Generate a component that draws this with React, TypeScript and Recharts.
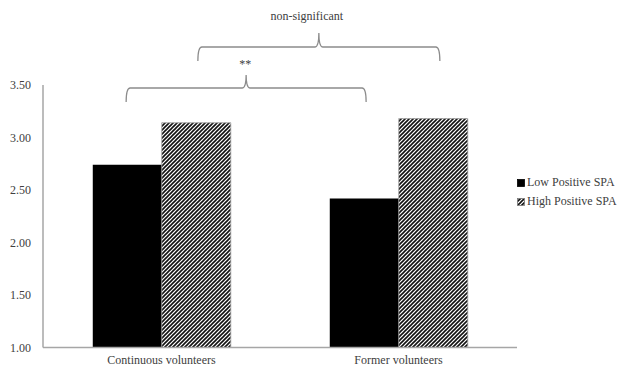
import { BarChart, Bar, XAxis, YAxis, Legend } from 'recharts'

const categories = ['Continuous volunteers', 'Former volunteers']
const lowPositive = [2.74, 2.42]
const highPositive = [3.14, 3.18]
const yTicks = [1.0, 1.5, 2.0, 2.5, 3.0, 3.5]
const seriesNames = ['Low Positive SPA', 'High Positive SPA']
const bracketLabels = ['**', 'non-significant']

const W = 622
const H = 372
const PLOT_LEFT = 43
const PLOT_RIGHT = 517
const PLOT_TOP = 85
const PLOT_BOTTOM = 347.5
const CAT_GAP = 0.21

const FONT = 'Liberation Serif, DejaVu Serif, serif'
const TEXT = '#404040'
const AXIS = '#a6a6a6'
const BRACE = '#8c8c8c'

const data = categories.map((name, i) => ({
  name,
  low: lowPositive[i],
  high: highPositive[i],
}))

// bar centres from the band layout (category band, gap, two bars)
function barCenter(cat: number, series: number): number {
  const band = (PLOT_RIGHT - PLOT_LEFT) / categories.length
  const gap = band * CAT_GAP
  const bw = (band - 2 * gap) / 2
  return PLOT_LEFT + band * cat + gap + bw * series + bw / 2
}

function bracePath(x1: number, x2: number, yH: number, yTip: number, yCusp: number): string {
  const xm = (x1 + x2) / 2
  const r = 4
  return [
    `M${x1},${yTip}`,
    `Q${x1},${yH} ${x1 + r},${yH}`,
    `L${xm - r},${yH}`,
    `Q${xm},${yH} ${xm},${yCusp}`,
    `Q${xm},${yH} ${xm + r},${yH}`,
    `L${x2 - r},${yH}`,
    `Q${x2},${yH} ${x2},${yTip}`,
  ].join(' ')
}

function LegendBox() {
  return (
    <div style={{ fontFamily: FONT, fontSize: 12, color: TEXT }}>
      {seriesNames.map((n, i) => (
        <div key={n} style={{ display: 'flex', alignItems: 'center', height: 19 }}>
          <svg width={8} height={8} style={{ marginRight: 2 }}>
            <rect x={0.5} y={0.5} width={7} height={7} fill={i === 0 ? '#000' : 'url(#hatch)'} stroke={i === 0 ? '#000' : '#777'} strokeWidth={0.8} />
          </svg>
          <span>{n}</span>
        </div>
      ))}
    </div>
  )
}

export default function App() {
  const lowBrace = [barCenter(0, 0) - 1, barCenter(1, 0) + 2]
  const highBrace = [barCenter(0, 1) + 2, barCenter(1, 1) + 7]
  return (
    <div style={{ position: 'absolute', left: 0, top: 0, width: W, height: H, background: '#fff' }}>
      <BarChart
        width={W}
        height={H}
        data={data}
        margin={{ top: PLOT_TOP, right: W - PLOT_RIGHT, left: 0, bottom: 0 }}
        barCategoryGap={`${CAT_GAP * 100}%`}
        barGap={0}
      >
        <defs>
          <pattern id="hatch" patternUnits="userSpaceOnUse" width={4} height={4}>
            <rect width={4} height={4} fill="#fff" />
            <path d="M-1,1 l2,-2 M0,4 l4,-4 M3,5 l2,-2" stroke="#111" strokeWidth={1.6} />
          </pattern>
        </defs>
        <XAxis
          dataKey="name"
          height={H - PLOT_BOTTOM}
          tickLine={false}
          tickSize={0}
          tickMargin={8}
          axisLine={{ stroke: AXIS, strokeWidth: 1.5 }}
          tick={{ fontFamily: FONT, fontSize: 12, fill: TEXT }}
        />
        <YAxis
          width={PLOT_LEFT}
          domain={[1, 3.5]}
          ticks={yTicks}
          tickFormatter={(v: number) => v.toFixed(2)}
          tickLine={false}
          tickSize={0}
          tickMargin={12}
          axisLine={{ stroke: AXIS, strokeWidth: 1.5 }}
          tick={{ fontFamily: FONT, fontSize: 12, fill: TEXT }}
          interval={0}
        />
        <Legend
          layout="horizontal"
          verticalAlign="middle"
          align="center"
          content={<LegendBox />}
          wrapperStyle={{ position: 'absolute', left: 517, top: 173, width: 105 }}
        />
        <Bar dataKey="low" name={seriesNames[0]} fill="#000" isAnimationActive={false} />
        <Bar dataKey="high" name={seriesNames[1]} fill="url(#hatch)" stroke="#9a9a9a" strokeWidth={0.8} isAnimationActive={false} />
      </BarChart>
      <svg width={W} height={H} style={{ position: 'absolute', left: 0, top: 0, pointerEvents: 'none' }}>
        <path d={bracePath(highBrace[0], highBrace[1], 47, 61, 33)} fill="none" stroke={BRACE} strokeWidth={1.3} />
        <path d={bracePath(lowBrace[0], lowBrace[1], 88, 102, 75)} fill="none" stroke={BRACE} strokeWidth={1.3} />
        <text x={(lowBrace[0] + lowBrace[1]) / 2 - 1} y={68} textAnchor="middle" fontFamily={FONT} fontSize={12} fill={TEXT}>
          {bracketLabels[0]}
        </text>
        <text x={(highBrace[0] + highBrace[1]) / 2 - 12} y={20} textAnchor="middle" fontFamily={FONT} fontSize={12} fill={TEXT}>
          {bracketLabels[1]}
        </text>
      </svg>
    </div>
  )
}
